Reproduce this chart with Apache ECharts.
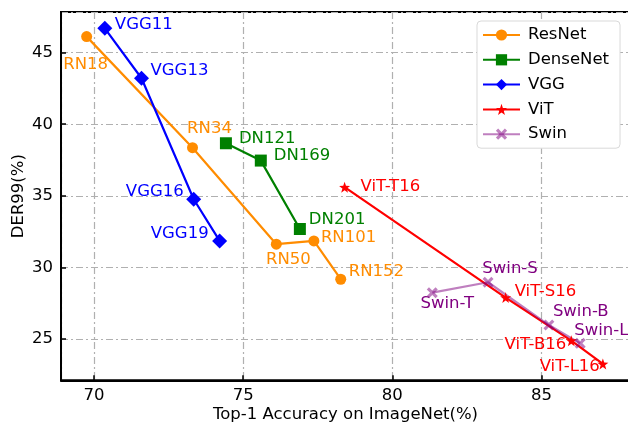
<!DOCTYPE html>
<html>
<head>
<meta charset="utf-8">
<script src="https://cdn.jsdelivr.net/npm/echarts@6/dist/echarts.min.js"></script>
<style>html,body{margin:0;padding:0;background:#fff}#c{width:628px;height:430px}</style>
</head>
<body>
<div id="c"></div>
<script>
// ---- data ----
const resnetNames = ['RN18', 'RN34', 'RN50', 'RN101', 'RN152'];
const resnetAcc   = [69.75, 73.30, 76.11, 77.37, 78.27];
const resnetDer   = [46.12, 38.36, 31.62, 31.85, 29.17];

const densenetNames = ['DN121', 'DN169', 'DN201'];
const densenetAcc   = [74.42, 75.59, 76.90];
const densenetDer   = [38.67, 37.46, 32.68];

const vggNames = ['VGG11', 'VGG13', 'VGG16', 'VGG19'];
const vggAcc   = [70.36, 71.59, 73.34, 74.21];
const vggDer   = [46.70, 43.21, 34.76, 31.85];

const vitNames = ['ViT-T16', 'ViT-S16', 'ViT-B16', 'ViT-L16'];
const vitAcc   = [78.40, 83.80, 86.00, 87.06];
const vitDer   = [35.60, 27.89, 24.88, 23.25];

const swinNames = ['Swin-T', 'Swin-S', 'Swin-B', 'Swin-L'];
const swinAcc   = [81.34, 83.21, 85.25, 86.30];
const swinDer   = [28.23, 28.96, 25.97, 24.69];

// ---- label placement (align, dx, dy relative to the marker) ----
const resnetLab   = [['center', -1, 28], ['center', 17, -19], ['center', 12, 16], ['left', 7, -3], ['left', 8, -8]];
const densenetLab = [['left', 13, -5], ['left', 13, -5], ['left', 9, -9]];
const vggLab      = [['left', 10, -4], ['left', 9, -8], ['right', -10, -8], ['right', -11, -7]];
const vitLab      = [['left', 16, 0], ['left', 9, -6], ['right', -5, 4], ['right', -3, 3]];
const swinLab     = [['center', 15, 11], ['center', 22, -14], ['left', 4, -13], ['left', -6, -13]];

const FONT = 'DejaVu Sans';
const FS = 16.5;

const STAR = 'path://M0,-10 L2.35,-3.24 L9.51,-3.09 L3.8,1.24 L5.88,8.09 L0,4 L-5.88,8.09 L-3.8,1.24 L-9.51,-3.09 L-2.35,-3.24 Z';
const XMARK = 'path://M-10,-6 L-6,-10 L0,-4 L6,-10 L10,-6 L4,0 L10,6 L6,10 L0,4 L-6,10 L-10,6 L-4,0 Z';

function build(names, acc, der, lab, labelColor) {
  return names.map((n, i) => ({
    value: [acc[i], der[i]],
    name: n,
    label: {
      show: true,
      formatter: n,
      position: 'inside',
      align: lab[i][0],
      verticalAlign: 'middle',
      offset: [lab[i][1], lab[i][2]],
      color: labelColor,
      fontFamily: FONT,
      fontSize: FS
    }
  }));
}

function series(name, names, acc, der, lab, color, symbol, size, labelColor) {
  return {
    name: name,
    type: 'line',
    data: build(names, acc, der, lab, labelColor || color),
    symbol: symbol,
    symbolSize: size,
    showAllSymbol: true,
    lineStyle: { color: color, width: 2.2 },
    itemStyle: { color: color },
    emphasis: { disabled: true },
    animation: false,
    z: 3
  };
}

const chart = echarts.init(document.getElementById('c'), null, { renderer: 'canvas' });
chart.setOption({
  animation: false,
  backgroundColor: '#ffffff',
  textStyle: { fontFamily: FONT },
  grid: {
    left: 61, top: 12, right: -2, bottom: 49.7,
    containLabel: false,
    outerBoundsMode: 'none',
    show: true, borderColor: '#000', borderWidth: 2, backgroundColor: 'transparent'
  },
  legend: {
    orient: 'vertical',
    left: 477, top: 21,
    padding: [5, 11, 5, 5],
    backgroundColor: '#ffffff',
    borderColor: '#d9d9d9',
    borderWidth: 1,
    borderRadius: 4,
    itemWidth: 37,
    itemHeight: 14,
    itemGap: 6.8,
    textStyle: { fontFamily: FONT, fontSize: FS, color: '#000', lineHeight: 18, padding: [0, 0, 0, 3] },
    data: ['ResNet', 'DenseNet', 'VGG', 'ViT', 'Swin']
  },
  xAxis: {
    type: 'value',
    min: 68.89, max: 87.97,
    splitNumber: 4,
    name: 'Top-1 Accuracy on ImageNet(%)',
    nameLocation: 'middle',
    nameGap: 26,
    nameMoveOverlap: false,
    nameTextStyle: { fontFamily: FONT, fontSize: FS, color: '#000', verticalAlign: 'top' },
    axisLine: { show: true, onZero: false, lineStyle: { color: '#000', width: 2 } },
    axisTick: { show: true, inside: true, length: 5, lineStyle: { color: '#000', width: 1.5 } },
    axisLabel: { fontFamily: FONT, fontSize: FS, color: '#000', margin: 7, showMinLabel: false, showMaxLabel: false },
    splitLine: { show: true, lineStyle: { color: '#b0b0b0', width: 1.2, type: [7, 3, 2, 3] } }
  },
  yAxis: {
    type: 'value',
    min: 22.11, max: 47.84,
    splitNumber: 5,
    name: 'DER99(%)',
    nameLocation: 'middle',
    nameGap: 34,
    nameMoveOverlap: false,
    nameTextStyle: { fontFamily: FONT, fontSize: FS, color: '#000' },
    axisLine: { show: true, onZero: false, lineStyle: { color: '#000', width: 2 } },
    axisTick: { show: true, inside: true, length: 5, lineStyle: { color: '#000', width: 1.5 } },
    axisLabel: { fontFamily: FONT, fontSize: FS, color: '#000', margin: 8, showMinLabel: false, showMaxLabel: false },
    splitLine: { show: true, lineStyle: { color: '#b0b0b0', width: 1.2, type: [7, 3, 2, 3] } }
  },
  series: [
    series('ResNet', resnetNames, resnetAcc, resnetDer, resnetLab, '#ff8c00', 'circle', 11),
    series('DenseNet', densenetNames, densenetAcc, densenetDer, densenetLab, '#008000', 'rect', 12),
    series('VGG', vggNames, vggAcc, vggDer, vggLab, '#0000ff', 'diamond', 15),
    series('ViT', vitNames, vitAcc, vitDer, vitLab, '#ff0000', STAR, 11),
    series('Swin', swinNames, swinAcc, swinDer, swinLab, 'rgba(128,0,128,0.5)', XMARK, 11, '#800080')
  ]
});
</script>
</body>
</html>
